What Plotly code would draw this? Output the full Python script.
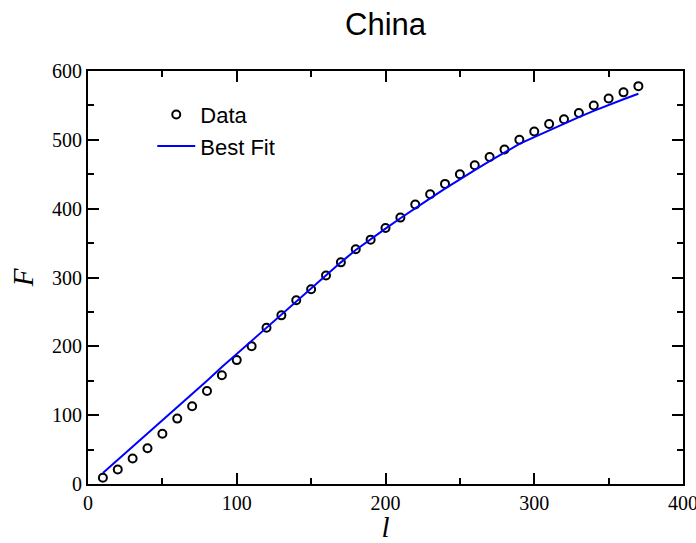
import plotly.graph_objects as go

l_data = [10, 20, 30, 40, 50, 60, 70, 80, 90, 100, 110, 120, 130, 140, 150, 160, 170, 180, 190,
          200, 210, 220, 230, 240, 250, 260, 270, 280, 290, 300, 310, 320, 330, 340, 350, 360, 370]
F_data = [9, 21, 37, 52, 73, 95, 113, 135, 158, 180, 200, 227, 245, 267, 283, 303, 322, 341, 355,
          372, 387, 406, 421, 436, 450, 463, 475, 486, 500, 512, 523, 530, 539, 550, 560, 569, 578]
F_fit = [16, 35, 54, 73, 93, 112, 131, 150, 170, 189, 208, 227, 246, 266, 285, 304, 322, 340, 356,
         371, 386, 401, 415, 429, 443, 456, 469, 482, 494, 504, 514, 524, 533, 542, 551, 559, 567]

fig = go.Figure()
fig.add_trace(go.Scatter(x=l_data, y=F_data, mode="markers", name="Data",
                         marker=dict(symbol="circle-open", size=8, color="black",
                                     line=dict(width=2, color="black"))))
fig.add_trace(go.Scatter(x=l_data, y=F_fit, mode="lines", name="Best Fit",
                         line=dict(color="#0000ff", width=2)))

axis_common = dict(showline=True, linecolor="black", linewidth=2, mirror="ticks",
                   ticks="inside", ticklen=11, tickwidth=1.5, tickcolor="black",
                   showgrid=False, zeroline=False, automargin=False,
                   ticklabeloverflow="allow",
                   tickfont=dict(family="Liberation Serif", size=20, color="black"),
                   minor=dict(ticks="inside", ticklen=6, tickwidth=1.5, tickcolor="black", showgrid=False))

fig.update_xaxes(range=[0, 400], dtick=100, **axis_common,
                 title=dict(text="<i>l</i>", font=dict(family="Liberation Serif", size=29, color="black"),
                            standoff=6))
fig.update_xaxes(minor_dtick=50)
fig.update_yaxes(range=[0, 600], dtick=100, **axis_common,
                 title=dict(text="<i>F</i>", font=dict(family="Liberation Serif", size=29, color="black"),
                            standoff=10))
fig.update_yaxes(minor_dtick=50)

fig.update_layout(
    width=696, height=543,
    margin=dict(l=88, r=13, t=71, b=59, autoexpand=False),
    paper_bgcolor="white", plot_bgcolor="white",
    title=dict(text="China", x=0.554, xanchor="center", y=0.955, yanchor="middle",
               font=dict(family="Liberation Sans", size=31, color="black")),
    legend=dict(x=0.108, y=0.945, xanchor="left", yanchor="top", bgcolor="rgba(0,0,0,0)",
                font=dict(family="Liberation Sans", size=22, color="black"),
                tracegroupgap=0, itemwidth=38),
    showlegend=True,
)

fig.write_html("out.html")
